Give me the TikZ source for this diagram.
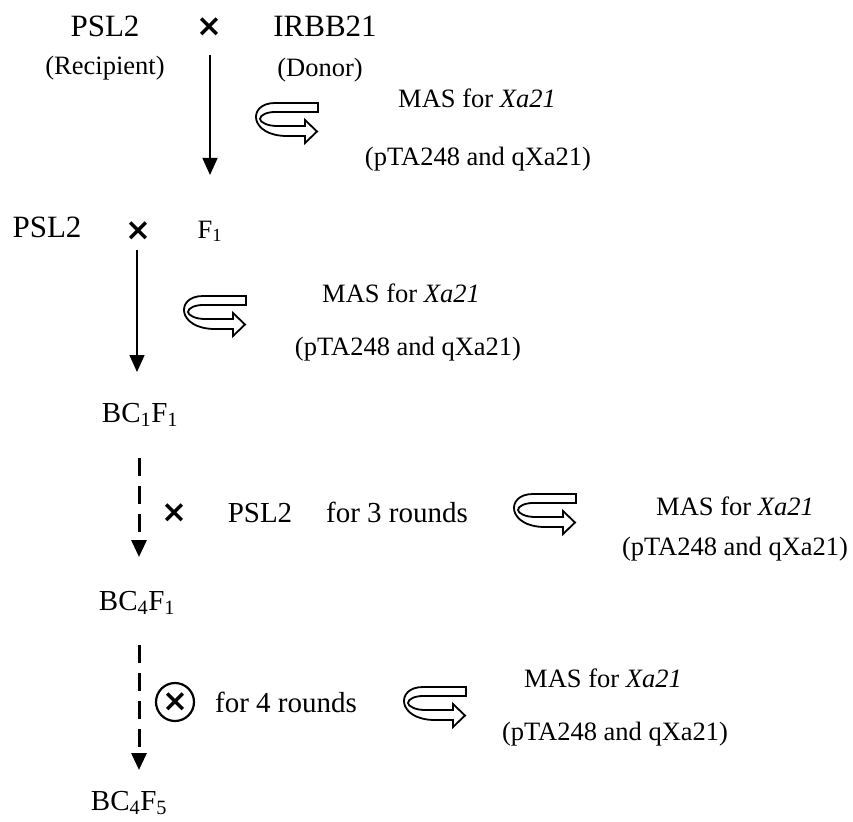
\documentclass[tikz,border=0pt]{standalone}
\usepackage{fontspec}
\setmainfont{Liberation Serif}
\newfontfamily\crossfont{DejaVu Sans}
\usetikzlibrary{arrows.meta}

\begin{document}
\begin{tikzpicture}[x=1pt, y=-1pt,
  textA/.style={font=\fontsize{31}{36}\selectfont, anchor=base, inner sep=0pt},
  textB/.style={font=\fontsize{29}{34}\selectfont, anchor=base, inner sep=0pt},
  textC/.style={font=\fontsize{26.5}{31}\selectfont, anchor=base, inner sep=0pt},
  crosssign/.style={font=\crossfont\bfseries\fontsize{31}{31}\selectfont, inner sep=0pt},
  flow/.style={line width=1.5pt, -{Triangle[width=15pt,length=17pt]}},
  dashflow/.style={line width=3pt, dash pattern=on 18pt off 10pt, -{Triangle[width=15pt,length=17pt]}},
  mascycle/.pic={
    \draw[line width=1.8pt, line join=miter] (31,-18) -- (-12,-18)
      .. controls (-40,-18) and (-38,15) .. (0,15) -- (18,15) -- (18,22) -- (30,10.5)
      -- (18,-1) -- (18,5) -- (-10,5) .. controls (-20,5) and (-27,1) .. (-27,-2)
      .. controls (-27,-6) and (-20,-9) .. (-12,-9) -- (31,-9) -- cycle;
  }]
  \useasboundingbox (0,0) rectangle (853,821);

  \node[textA] (PSLa) at (105,37) {PSL2};
  \node[crosssign] (crossA) at (209,27) {×};
  \node[textA] (IRBB) at (325,37) {IRBB21};
  \node[textC] (Recipient) at (105,75) {(Recipient)};
  \node[textC] (Donor) at (320,77) {(Donor)};
  \node[textC] (MASa) at (477,108) {MAS for \textit{Xa21}};
  \node[textC] (markerA) at (478,166) {(pTA248 and qXa21)};
  \pic at (287,121) {mascycle};
  \coordinate (topA) at (210,55);
  \coordinate (tipA) at (210,175);
  \draw[flow] (topA) -- (tipA);

  \node[textA] (PSLb) at (47,237) {PSL2};
  \node[crosssign] (crossB) at (138,231) {×};
  \node[textC] (F1) at (210,238) {F\textsubscript{1}};
  \node[textC] (MASb) at (401,302) {MAS for \textit{Xa21}};
  \node[textC] (markerB) at (408,355) {(pTA248 and qXa21)};
  \pic at (215,314) {mascycle};
  \node[textB] (BCone) at (140,422) {BC\textsubscript{1}F\textsubscript{1}};
  \coordinate (topB) at (137,250);
  \coordinate (tipB) at (137,372);
  \draw[flow] (topB) -- (tipB);

  \node[crosssign] (crossC) at (174,513) {×};
  \node[textB] (PSLc) at (260,522) {PSL2};
  \node[textB] (roundsC) at (397,522) {for 3 rounds};
  \pic at (545,512) {mascycle};
  \node[textC] (MASc) at (735,515) {MAS for \textit{Xa21}};
  \node[textC] (markerC) at (735,555) {(pTA248 and qXa21)};
  \node[textB] (BCfour) at (137,610) {BC\textsubscript{4}F\textsubscript{1}};
  \coordinate (topC) at (139,458);
  \coordinate (tipC) at (139,557);
  \draw[dashflow] (topC) -- (tipC);

  \node[crosssign, circle, draw, line width=2.2pt, minimum size=38pt] (selfing) at (175,702) {×};
  \node[textB] (roundsD) at (286,712) {for 4 rounds};
  \pic at (435,705) {mascycle};
  \node[textC] (MASd) at (603,687) {MAS for \textit{Xa21}};
  \node[textC] (markerD) at (615,740) {(pTA248 and qXa21)};
  \node[textB] (BCfive) at (129,810) {BC\textsubscript{4}F\textsubscript{5}};
  \coordinate (topD) at (139,645);
  \coordinate (tipD) at (139,770);
  \draw[dashflow] (topD) -- (tipD);
\end{tikzpicture}
\end{document}
